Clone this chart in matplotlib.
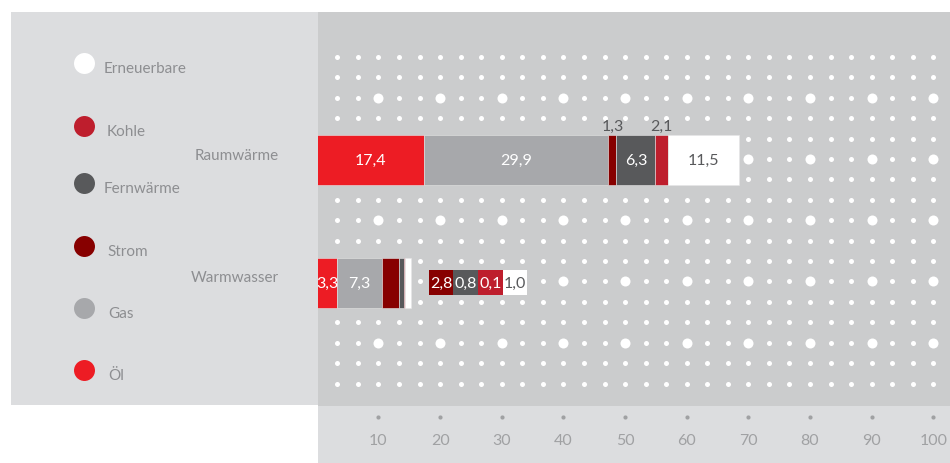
import matplotlib
matplotlib.use("Agg")
import matplotlib.pyplot as plt
import numpy as np

plt.rcParams['font.family'] = ['Lato', 'DejaVu Sans']

# data
categories = ['Raumwärme', 'Warmwasser']
sources = ['Öl', 'Gas', 'Strom', 'Fernwärme', 'Kohle', 'Erneuerbare']
raumwaerme = [17.4, 29.9, 1.3, 6.3, 2.1, 11.5]
warmwasser = [3.3, 7.3, 2.8, 0.8, 0.1, 1.0]
colors = ['#ed1c24', '#a7a8ab', '#870000', '#58595b', '#be1e2d', '#ffffff']
ticks = [10, 20, 30, 40, 50, 60, 70, 80, 90, 100]

W, H = 950, 464
fig = plt.figure(figsize=(W / 100, H / 100), dpi=100)

panel_light = '#dcdddf'
panel_dark = '#cbcccd'
txt_gray = '#8d8e91'
dark = '#58595b'
XMAX = 102.7

# main plot panel (pixels: x 318..950, y 13..407)
ax = fig.add_axes([318 / W, (H - 407) / H, (W - 318) / W, (407 - 13) / H])
ax.set_xlim(0.2, XMAX)
ax.set_ylim(17.1, -2.2)
ax.axis('off')
ax.add_patch(plt.Rectangle((0, 0), 1, 1, transform=ax.transAxes,
                           color=panel_dark, zorder=0))

# background dot grid
for r in range(17):
    for c in range(1, 31):
        big = (r % 3 == 2) and (c % 3 == 0)
        ax.scatter(c * 10 / 3, r, s=52 if big else 13, color='white',
                   linewidths=0, zorder=1)

# stacked bars
ypos = [5.05, 11.07]
bar_h = 2.42
for yi, vals in zip(ypos, [raumwaerme, warmwasser]):
    left = 0
    for v, col in zip(vals, colors):
        ax.barh(yi, v, left=left, height=bar_h, color=col,
                edgecolor='#e6e6e6', linewidth=0.4, zorder=2)
        left += v

# labels Raumwärme
left = 0
for v, col in zip(raumwaerme, colors):
    lab = f'{v:.1f}'.replace('.', ',')
    cx = left + v / 2
    if v >= 5:
        c = dark if col == '#ffffff' else 'white'
        ax.text(cx, ypos[0], lab, ha='center', va='center', color=c,
                fontsize=11.5, zorder=3)
    else:
        ax.text(cx, ypos[0] - bar_h / 2 - 0.1, lab, ha='center',
                va='bottom', color=dark, fontsize=11.5, zorder=3)
    left += v

# labels Warmwasser
left = 0
bx = 18.17
bw = 4.0
for v, col in zip(warmwasser, colors):
    lab = f'{v:.1f}'.replace('.', ',')
    if v >= 3:
        ax.text(left + v / 2, ypos[1], lab, ha='center', va='center',
                color='white', fontsize=11.5, zorder=3)
    else:
        ax.barh(ypos[1], bw, left=bx, height=1.22, color=col,
                linewidth=0, zorder=2)
        c = dark if col == '#ffffff' else 'white'
        ax.text(bx + bw / 2, ypos[1], lab, ha='center', va='center',
                color=c, fontsize=11.5, zorder=3)
        bx += bw
    left += v

# bottom axis strip
ax2 = fig.add_axes([318 / W, 0, (W - 318) / W, (H - 407) / H])
ax2.set_facecolor(panel_light)
ax2.set_xlim(0.2, XMAX)
ax2.set_ylim(57, 0)
ax2.set_xticks([])
ax2.set_yticks([])
for s in ax2.spines.values():
    s.set_visible(False)
for t in ticks:
    ax2.scatter(t, 11, s=9, color='#a0a1a3', linewidths=0)
    ax2.text(t, 34, str(t), ha='center', va='center', color='#a0a1a3',
             fontsize=11.5)

# legend panel
ax3 = fig.add_axes([11 / W, (H - 406) / H, (318 - 11) / W, (406 - 13) / H])
ax3.set_facecolor(panel_light)
ax3.set_xlim(11, 318)
ax3.set_ylim(406, 13)
ax3.set_xticks([])
ax3.set_yticks([])
for s in ax3.spines.values():
    s.set_visible(False)

leg_y = [371, 309, 247, 184, 127, 64]
leg_tx = [108, 108, 107, 104, 107, 104]
for name, col, y, tx in zip(sources, colors, leg_y, leg_tx):
    ax3.scatter(84, y, s=228, color=col, linewidths=0)
    ax3.text(tx, y + 5, name, ha='left', va='center', color=txt_gray,
             fontsize=11)

for name, y in zip(categories, [156, 278]):
    ax3.text(279, y, name, ha='right', va='center', color=txt_gray,
             fontsize=11)

fig.savefig('out.png', dpi=100)
